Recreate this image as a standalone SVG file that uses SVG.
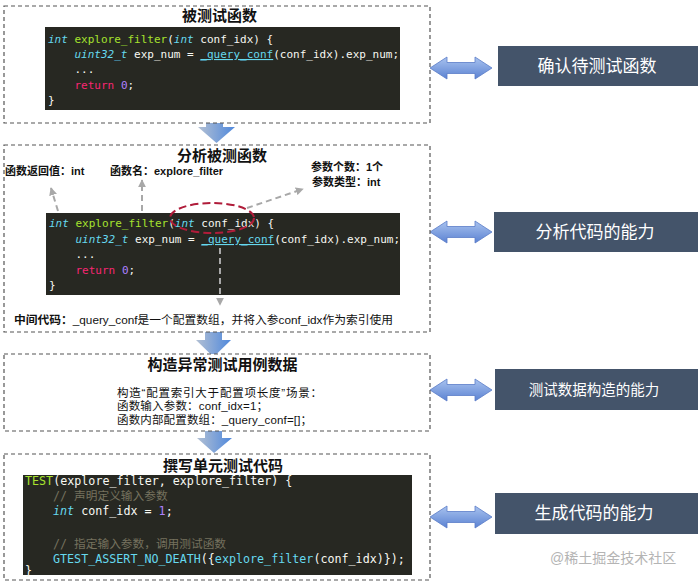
<svg xmlns="http://www.w3.org/2000/svg" width="698" height="582" viewBox="0 0 698 582">
<defs>
<linearGradient id="gDown" x1="0" y1="0" x2="1" y2="0">
<stop offset="0" stop-color="#b3c0d3"/>
<stop offset="1" stop-color="#4f88dc"/>
</linearGradient>
<linearGradient id="gDbl" x1="0" y1="0" x2="0" y2="1">
<stop offset="0" stop-color="#a9c3ef"/>
<stop offset="1" stop-color="#5b82d2"/>
</linearGradient>
<marker id="mGray" viewBox="0 0 10 10" refX="9" refY="5" markerWidth="4" markerHeight="4" orient="auto">
<path d="M0,0 L10,5 L0,10 z" fill="#a8a8a8"/>
</marker>
<style>
.frame{fill:#fff;stroke:#555;stroke-width:1.2;stroke-dasharray:4 3}
.title{font-family:"Liberation Sans","Noto Sans CJK SC",sans-serif;font-size:15px;font-weight:bold;fill:#111;text-anchor:middle}
.lbl{font-family:"Liberation Sans","Noto Sans CJK SC",sans-serif;font-size:11px;font-weight:bold;fill:#111}
.txt{font-family:"Liberation Sans","Noto Sans CJK SC",sans-serif;font-size:11.5px;fill:#111}
.code{font-family:"DejaVu Sans Mono","Noto Sans CJK SC",monospace;font-size:11px;fill:#f8f8f2}
.code2{font-family:"DejaVu Sans Mono","Noto Sans CJK SC",monospace;font-size:11.7px;fill:#f8f8f2}
.bg{fill:#272822}
.kw{fill:#66d9ef;font-style:italic}
.fn{fill:#a6e22e}
.cy{fill:#66d9ef}
.rt{fill:#f92672}
.num{fill:#ae81ff}
.cm{fill:#75715e}
.cap{fill:#44546a}
.capt{font-family:"Liberation Sans","Noto Sans CJK SC",sans-serif;font-size:17px;fill:#fff;text-anchor:middle}
.down{fill:url(#gDown)}
.dbl{fill:url(#gDbl);stroke:#5a7cc8;stroke-width:0.8}
.dash{fill:none;stroke:#a8a8a8;stroke-width:2;stroke-dasharray:6 4}
</style>
</defs>
<rect width="698" height="582" fill="#fff"/>

<g id="connectors">
<path class="down" d="M206,113 H223 V127 H235 L216.5,143 L198,127 H206 Z"/>
<path class="down" d="M205,327 H222 V340 H231 L213.5,357 L196,340 H205 Z"/>
<path class="down" d="M205,426 H222 V438 H232 L214,453 L197,438 H205 Z"/>
<path class="dbl" d="M430,68 L447,57 V62.5 H475 V57 L492,68 L475,79 V73.5 H447 V79 Z"/>
<path class="dbl" d="M430,232 L447,221 V226.5 H475 V221 L492,232 L475,243 V237.5 H447 V243 Z"/>
<path class="dbl" d="M430,390 L447,379 V384.5 H475 V379 L492,390 L475,401 V395.5 H447 V401 Z"/>
<path class="dbl" d="M430,517 L447,506 V511.5 H475 V506 L492,517 L475,528 V522.5 H447 V528 Z"/>
</g>

<g id="step1">
<rect class="frame" x="4" y="6" width="426" height="117"/>
<text class="title" x="219.5" y="21">被测试函数</text>
<rect class="bg" x="45" y="27" width="355" height="83"/>
<text class="code" x="48" y="43"><tspan class="kw">int</tspan> <tspan class="fn">explore_filter</tspan>(<tspan class="kw">int</tspan> conf_idx) {</text>
<text class="code" x="74.5" y="58"><tspan class="kw">uint32_t</tspan> exp_num = <tspan class="cy" text-decoration="underline">_query_conf</tspan>(conf_idx).exp_num;</text>
<text class="code" x="74.5" y="73">...</text>
<text class="code" x="74.5" y="89"><tspan class="rt">return</tspan> <tspan class="num">0</tspan>;</text>
<text class="code" x="48" y="104">}</text>
</g>

<g id="step2">
<rect class="frame" x="4" y="145" width="426" height="187"/>
<text class="title" x="222" y="161">分析被测函数</text>
<text class="lbl" x="5" y="175">函数返回值：int</text>
<text class="lbl" x="110" y="175">函数名：explore_filter</text>
<text class="lbl" x="311" y="171">参数个数：1个</text>
<text class="lbl" x="312" y="186">参数类型：int</text>
<rect class="bg" x="46" y="213" width="354" height="82"/>
<text class="code" x="49" y="227"><tspan class="kw">int</tspan> <tspan class="fn">explore_filter</tspan>(<tspan class="kw">int</tspan> conf_idx) {</text>
<text class="code" x="75.5" y="243"><tspan class="kw">uint32_t</tspan> exp_num = <tspan class="cy" text-decoration="underline">_query_conf</tspan>(conf_idx).exp_num;</text>
<text class="code" x="75.5" y="258">...</text>
<text class="code" x="75.5" y="274"><tspan class="rt">return</tspan> <tspan class="num">0</tspan>;</text>
<text class="code" x="49" y="289">}</text>
<ellipse cx="212" cy="218" rx="42" ry="15" fill="none" stroke="#b01c3a" stroke-width="2" stroke-dasharray="8 4"/>
<path class="dash" d="M58,211 L51,188" marker-end="url(#mGray)"/>
<path class="dash" d="M142,211 V180" marker-end="url(#mGray)"/>
<path class="dash" d="M247,208 L303,189" marker-end="url(#mGray)"/>
<path class="dash" d="M220,248 V305" marker-end="url(#mGray)"/>
<text class="txt" x="14" y="324" textLength="379" lengthAdjust="spacingAndGlyphs"><tspan font-weight="bold">中间代码：</tspan>_query_conf是一个配置数组，并将入参conf_idx作为索引使用</text>
</g>

<g id="step3">
<rect class="frame" x="4" y="354" width="426" height="77"/>
<text class="title" x="222.5" y="370">构造异常测试用例数据</text>
<text class="txt" x="117" y="397" textLength="205" lengthAdjust="spacing">构造“配置索引大于配置项长度”场景：</text>
<text class="txt" x="117" y="410" textLength="151" lengthAdjust="spacing">函数输入参数：conf_idx=1；</text>
<text class="txt" x="117" y="424" textLength="195" lengthAdjust="spacing">函数内部配置数组：_query_conf=[]；</text>
</g>

<g id="step4">
<rect class="frame" x="4" y="454" width="426" height="126"/>
<text class="title" x="223" y="471">撰写单元测试代码</text>
<rect class="bg" x="23" y="475" width="389" height="100"/>
<text class="code2" x="25" y="485"><tspan class="fn">TEST</tspan>(explore_filter, explore_filter) {</text>
<text class="code2" x="53" y="500"><tspan class="cm">// 声明定义输入参数</tspan></text>
<text class="code2" x="53" y="515"><tspan class="kw">int</tspan> conf_idx = <tspan class="num">1</tspan>;</text>
<text class="code2" x="53" y="548"><tspan class="cm">// 指定输入参数，调用测试函数</tspan></text>
<text class="code2" x="53" y="563"><tspan class="cy">GTEST_ASSERT_NO_DEATH</tspan>({<tspan class="cy">explore_filter</tspan>(conf_idx)});</text>
<text class="code2" x="25" y="575">}</text>
</g>

<g id="cap1">
<rect class="cap" x="498" y="46" width="200" height="40"/>
<text class="capt" x="597" y="72">确认待测试函数</text>
</g>
<g id="cap2">
<rect class="cap" x="494" y="212" width="204" height="40"/>
<text class="capt" x="595" y="238">分析代码的能力</text>
</g>
<g id="cap3">
<rect class="cap" x="495" y="369" width="203" height="41"/>
<text class="capt" x="594" y="395" style="font-size:14.5px">测试数据构造的能力</text>
</g>
<g id="cap4">
<rect class="cap" x="495" y="493" width="203" height="41"/>
<text class="capt" x="594" y="519">生成代码的能力</text>
</g>

<text x="550" y="563" font-family="'Liberation Sans','Noto Sans CJK SC',sans-serif" font-size="14" fill="#b4b4b4">@稀土掘金技术社区</text>
</svg>
